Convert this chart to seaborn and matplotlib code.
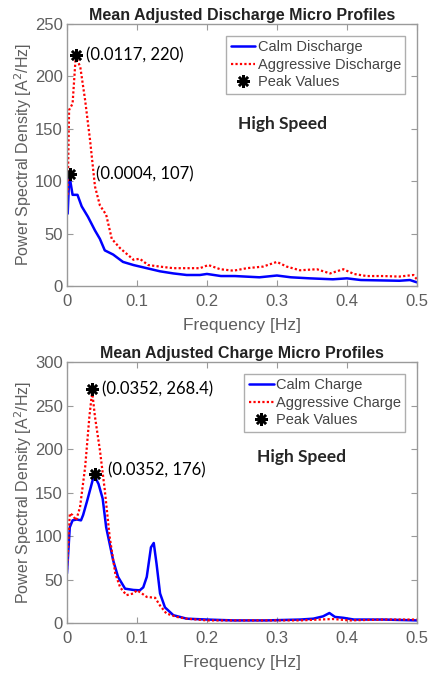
import matplotlib
matplotlib.use("Agg")
import matplotlib.pyplot as plt
import seaborn as sns
import numpy as np

# ── Data ──────────────────────────────────────────────────────────────────────
dis_calm_f = [0.001, 0.0033, 0.008, 0.015, 0.021, 0.030, 0.040, 0.047, 0.054, 0.066,
              0.080, 0.095, 0.114, 0.133, 0.152, 0.171, 0.190, 0.200, 0.220, 0.240,
              0.275, 0.300, 0.320, 0.347, 0.380, 0.400, 0.420, 0.475, 0.490, 0.500]
dis_calm_p = [69, 106, 87, 87, 76, 66, 53, 45, 34, 30,
              23, 20, 17, 14, 12, 10.5, 10.5, 11.5, 9.5, 9.5,
              8.3, 10, 8.3, 7.3, 6.4, 7.3, 5.7, 5, 5.7, 3.5]
dis_aggr_f = [0.001, 0.003, 0.008, 0.0125, 0.019, 0.026, 0.033, 0.040, 0.047, 0.056,
              0.064, 0.076, 0.090, 0.095, 0.104, 0.116, 0.133, 0.152, 0.171, 0.190,
              0.202, 0.219, 0.238, 0.257, 0.280, 0.300, 0.314, 0.333, 0.357, 0.376,
              0.395, 0.410, 0.428, 0.452, 0.475, 0.495, 0.500]
dis_aggr_p = [87, 168, 174, 219, 209, 177, 139, 95, 77, 68,
              45, 36, 28, 25, 26, 20, 18.5, 17, 17, 17,
              20, 16, 14.6, 17, 18.5, 23, 18.5, 15, 16, 12,
              16, 11.5, 9.5, 9.5, 9, 10.5, 6.4]

chg_calm_f = [0.0, 0.004, 0.008, 0.014, 0.020, 0.023, 0.029, 0.034, 0.0386, 0.045,
              0.051, 0.056, 0.061, 0.066, 0.073, 0.083, 0.095, 0.104, 0.109, 0.114,
              0.120, 0.124, 0.128, 0.133, 0.140, 0.152, 0.171, 0.200, 0.238, 0.285,
              0.333, 0.352, 0.366, 0.375, 0.383, 0.395, 0.410, 0.452, 0.500]
chg_calm_p = [57, 110, 118, 119, 118, 124, 141, 156, 170, 160,
              143, 110, 91, 72, 53, 39.5, 38, 37.6, 41, 53,
              87, 92, 68, 34, 18, 9, 5, 4, 3, 3,
              4, 5, 7.7, 11.5, 7, 6, 4, 4, 3]
chg_aggr_f = [0.0, 0.004, 0.008, 0.013, 0.0186, 0.026, 0.032, 0.036, 0.040, 0.047,
              0.054, 0.061, 0.069, 0.076, 0.085, 0.095, 0.100, 0.107, 0.114, 0.126,
              0.133, 0.142, 0.157, 0.171, 0.200, 0.285, 0.333, 0.361, 0.380, 0.404,
              0.452, 0.500]
chg_aggr_p = [61, 126, 124, 118, 133, 179.5, 237, 266, 237, 199,
              153, 99, 57, 41, 32, 34, 37.6, 34, 30, 29,
              20, 11, 7, 5, 3, 3, 3, 4, 4.6, 3,
              4, 4]

dis_peak_f = [0.004, 0.0125]
dis_peak_p = [107, 220]
dis_peak_txt = ["(0.0004, 107)", "(0.0117, 220)"]
dis_txt_f = [0.041, 0.027]

chg_peak_f = [0.036, 0.040]
chg_peak_p = [268.4, 171]
chg_peak_txt = ["(0.0352, 268.4)", "(0.0352, 176)"]
chg_txt_f = [0.050, 0.059]
chg_txt_p = [268.4, 176]

# ── Style ─────────────────────────────────────────────────────────────────────
sns.set_style("ticks")
plt.rcParams["font.family"] = ["Liberation Sans", "DejaVu Sans"]
GRAY = "#9a9a9a"
TICKC = "#5e5e5e"
ASTER = (8, 2, 0)

fig = plt.figure(figsize=(4.28, 6.75), dpi=100)
ax1 = fig.add_axes([0.1565, 0.5763, 0.8175, 0.3881])
ax2 = fig.add_axes([0.1565, 0.0770, 0.8175, 0.3867])


def style_axis(ax, ymax, title):
    ax.set_xlim(0, 0.5)
    ax.set_ylim(0, ymax)
    ax.set_xticks([0, 0.1, 0.2, 0.3, 0.4, 0.5])
    ax.set_xticklabels(["0", "0.1", "0.2", "0.3", "0.4", "0.5"])
    ax.set_yticks(np.arange(0, ymax + 1, 50))
    for s in ax.spines.values():
        s.set_color(GRAY)
        s.set_linewidth(1.0)
        s.set_visible(True)
    ax.tick_params(direction="in", top=True, right=True, length=4,
                   color=GRAY, labelcolor=TICKC, labelsize=12)
    ax.tick_params(axis="x", pad=6)
    ax.tick_params(axis="y", pad=3)
    ax.set_xlabel("Frequency [Hz]", fontsize=12.5, color=TICKC, labelpad=6)
    ax.set_ylabel("Power Spectral Density [A$^2$/Hz]", fontsize=11.5,
                  color=TICKC, labelpad=1)
    ax.set_title(title, fontsize=11.5, fontweight="bold", color="#222222", pad=3)


def legend(ax):
    leg = ax.legend(loc="upper right", fontsize=10.5, frameon=True, fancybox=False,
                    edgecolor=GRAY, borderpad=0.3, labelspacing=0.25,
                    handlelength=1.7, handletextpad=0.15, borderaxespad=0.8)
    leg.get_frame().set_linewidth(1.0)
    for t in leg.get_texts():
        t.set_color("#444444")


# ── Top: discharge ────────────────────────────────────────────────────────────
sns.lineplot(x=dis_calm_f, y=dis_calm_p, ax=ax1, color="#0000ff", lw=1.8,
             label="Calm Discharge")
sns.lineplot(x=dis_aggr_f, y=dis_aggr_p, ax=ax1, color="#ff0000", lw=1.6,
             linestyle=(0, (1, 1)), label="Aggressive Discharge")
ax1.plot(dis_peak_f, dis_peak_p, linestyle="none", marker=ASTER, ms=9,
         mew=1.8, color="black", label="Peak Values")
for fx, py, t in zip(dis_txt_f, dis_peak_p, dis_peak_txt):
    ax1.text(fx, py, t, fontsize=12, family=["Lato", "DejaVu Sans"],
             va="center", ha="left", color="black")
ax1.text(0.244, 155, "High Speed", fontsize=12.5, fontweight="bold",
         family=["Lato", "DejaVu Sans"], va="center", ha="left")
style_axis(ax1, 250, "Mean Adjusted Discharge Micro Profiles")
legend(ax1)

# ── Bottom: charge ────────────────────────────────────────────────────────────
sns.lineplot(x=chg_calm_f, y=chg_calm_p, ax=ax2, color="#0000ff", lw=1.8,
             label="Calm Charge")
sns.lineplot(x=chg_aggr_f, y=chg_aggr_p, ax=ax2, color="#ff0000", lw=1.6,
             linestyle=(0, (1, 1)), label="Aggressive Charge")
ax2.plot(chg_peak_f, chg_peak_p, linestyle="none", marker=ASTER, ms=9,
         mew=1.8, color="black", label="Peak Values")
for fx, py, t in zip(chg_txt_f, chg_txt_p, chg_peak_txt):
    ax2.text(fx, py, t, fontsize=12, family=["Lato", "DejaVu Sans"],
             va="center", ha="left", color="black")
ax2.text(0.272, 191, "High Speed", fontsize=12.5, fontweight="bold",
         family=["Lato", "DejaVu Sans"], va="center", ha="left")
style_axis(ax2, 300, "Mean Adjusted Charge Micro Profiles")
legend(ax2)

fig.savefig("out.png", dpi=100, facecolor="white")
